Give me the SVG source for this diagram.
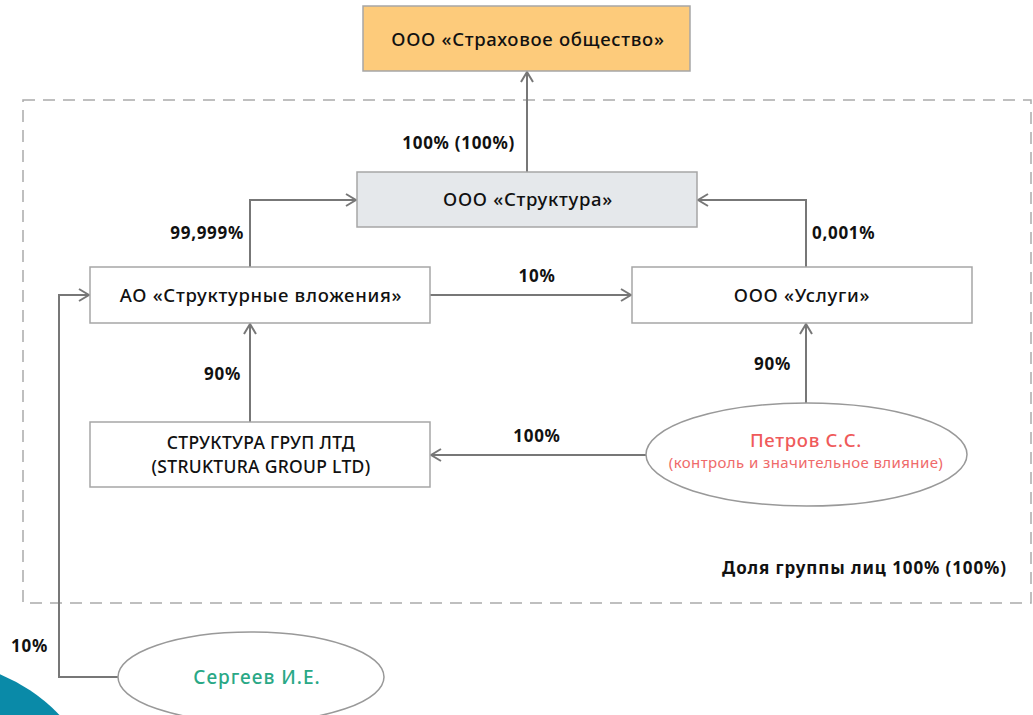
<svg xmlns="http://www.w3.org/2000/svg" width="1033" height="715" viewBox="0 0 1033 715">
<style>
.box{fill:#fff;stroke:#a6a6a6;stroke-width:1.5}
.t{font-family:"Noto Sans","Open Sans",sans-serif;font-size:18.5px;letter-spacing:0.7px;font-weight:500;fill:#111;text-anchor:middle}
.lbl{font-family:"Noto Sans","Open Sans",sans-serif;font-size:17px;letter-spacing:0.7px;font-weight:bold;fill:#111}
.c{fill:none;stroke:#777;stroke-width:2}
</style>
<defs>
<marker id="arr" viewBox="0 0 12 14" refX="11" refY="7" markerWidth="12" markerHeight="14" markerUnits="userSpaceOnUse" orient="auto">
<polyline points="1,1 11,7 1,13" fill="none" stroke="#777" stroke-width="2"/>
</marker>
</defs>
<rect width="1033" height="715" fill="#fff"/>
<circle cx="-70" cy="840" r="180" fill="#0a8aa8"/>
<rect id="group-frame" x="23" y="100" width="1008" height="503" fill="none" stroke="#aaa" stroke-width="1.5" stroke-dasharray="12 8"/>
<g id="connectors">
<path class="c" d="M527 172 V72" marker-end="url(#arr)"/>
<path class="c" d="M250 267 V200 H356" marker-end="url(#arr)"/>
<path class="c" d="M806 267 V200 H698" marker-end="url(#arr)"/>
<path class="c" d="M430 295 H631" marker-end="url(#arr)"/>
<path class="c" d="M250 422 V324" marker-end="url(#arr)"/>
<path class="c" d="M806 403 V324" marker-end="url(#arr)"/>
<path class="c" d="M646 455 H431" marker-end="url(#arr)"/>
<path class="c" d="M118 677 H59 V295 H89" marker-end="url(#arr)"/>
<text class="lbl" x="515" y="149" text-anchor="end">100% (100%)</text>
<text class="lbl" x="244" y="239" text-anchor="end">99,999%</text>
<text class="lbl" x="812" y="239">0,001%</text>
<text class="lbl" x="537" y="282" text-anchor="middle">10%</text>
<text class="lbl" x="241" y="380" text-anchor="end">90%</text>
<text class="lbl" x="791" y="370" text-anchor="end">90%</text>
<text class="lbl" x="537" y="442" text-anchor="middle">100%</text>
<text class="lbl" x="48" y="652" text-anchor="end">10%</text>
</g>
<g id="insurer">
<rect x="363" y="6" width="327" height="65" fill="#fdcb7b" stroke="#a6a6a6" stroke-width="1.5"/>
<text class="t" x="528" y="46">ООО «Страховое общество»</text>
</g>
<g id="struktura">
<rect x="357" y="172" width="340" height="55" fill="#e5e8eb" stroke="#a6a6a6" stroke-width="1.5"/>
<text class="t" x="528" y="206">ООО «Структура»</text>
</g>
<g id="ao-vlozheniya">
<rect class="box" x="90" y="267" width="340" height="56"/>
<text class="t" x="261" y="302">АО «Структурные вложения»</text>
</g>
<g id="uslugi">
<rect class="box" x="632" y="267" width="340" height="56"/>
<text class="t" x="802" y="302">ООО «Услуги»</text>
</g>
<g id="struktura-group">
<rect class="box" x="90" y="422" width="340" height="65"/>
<text class="t" x="261" y="449" style="font-size:17.5px;letter-spacing:0.3px">СТРУКТУРА ГРУП ЛТД</text>
<text class="t" x="261" y="473" style="font-size:17.5px;letter-spacing:0.3px">(STRUKTURA GROUP LTD)</text>
</g>
<g id="petrov">
<ellipse cx="806.5" cy="454.5" rx="160.5" ry="51.5" fill="#fff" stroke="#999" stroke-width="1.5"/>
<text class="t" x="806" y="447" style="fill:#ef5a5a">Петров С.С.</text>
<text class="t" x="806" y="468" style="fill:#ef6a6a;font-size:15px;letter-spacing:0.4px;font-weight:normal">(контроль и значительное влияние)</text>
</g>
<g id="sergeev">
<ellipse cx="251" cy="677" rx="133" ry="45" fill="#fff" stroke="#999" stroke-width="1.5"/>
<text class="t" x="257" y="684" style="fill:#2aa886;font-size:19px;letter-spacing:1px">Сергеев И.Е.</text>
</g>
<text id="group-share" class="lbl" x="1007" y="574" text-anchor="end" style="letter-spacing:0.9px">Доля группы лиц 100% (100%)</text>
</svg>
